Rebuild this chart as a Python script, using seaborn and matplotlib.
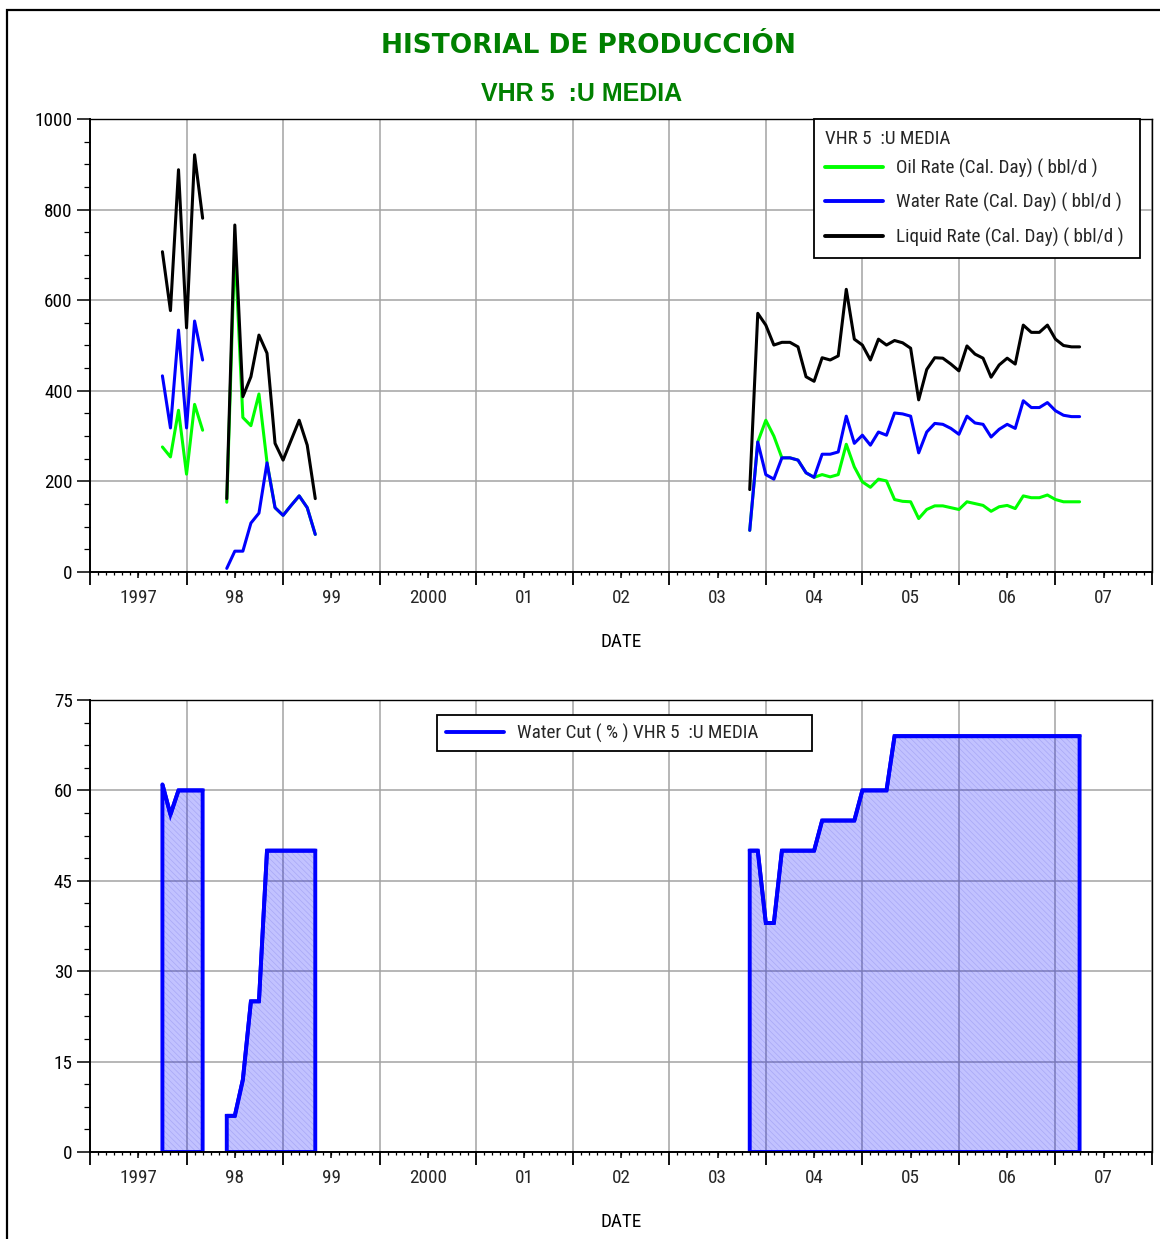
import numpy as np
import pandas as pd
import matplotlib
matplotlib.use("Agg")
import matplotlib.pyplot as plt
from matplotlib import font_manager as fm
from matplotlib.textpath import TextPath
from matplotlib.ticker import FixedLocator, NullFormatter
from matplotlib.lines import Line2D
from matplotlib.patches import Rectangle
import seaborn as sns

# ---- monthly production history, well VHR 5, sand U MEDIA ----
# three producing periods (first month of each)
period_starts = ["1997-04", "1997-12", "2003-05"]

# Oil rate (cal. day), bbl/d
oil_p1 = [276, 254, 357, 216, 370, 313]
oil_p2 = [154, 720, 341, 323, 393, 242, 142, 125, 147, 168, 142, 83]
oil_p3 = [92, 287, 335, 300, 252, 252, 247, 219,
          209, 215, 210, 215, 282, 232, 199, 187, 205, 201, 160, 156,
          155, 118, 138, 146, 146, 142, 138, 155, 151, 147, 134, 144,
          147, 140, 168, 164, 164, 170, 160, 155, 155, 155]

# Water rate (cal. day), bbl/d
water_p1 = [433, 318, 534, 318, 554, 468]
water_p2 = [8, 46, 46, 108, 130, 241, 142, 125, 147, 168, 142, 83]
water_p3 = [92, 287, 215, 205, 252, 252, 247, 219,
            209, 260, 260, 265, 344, 284, 302, 280, 309, 302, 351, 349,
            344, 263, 309, 328, 326, 317, 304, 344, 329, 326, 298, 315,
            326, 317, 378, 363, 363, 374, 356, 346, 343, 343]

# Liquid rate (cal. day), bbl/d
liquid_p1 = [707, 577, 888, 539, 921, 781]
liquid_p2 = [162, 766, 387, 431, 523, 483, 284, 247, 291, 335, 280, 162]
liquid_p3 = [182, 571, 545, 501, 507, 507, 497, 431,
             421, 473, 468, 477, 624, 514, 501, 468, 514, 501, 511, 506,
             494, 380, 447, 473, 472, 459, 444, 499, 481, 472, 430, 457,
             472, 459, 545, 529, 529, 545, 514, 500, 497, 497]

# Water cut, %
wcut_p1 = [61, 56, 60, 60, 60, 60]
wcut_p2 = [6, 6, 12, 25, 25, 50, 50, 50, 50, 50, 50, 50]
wcut_p3 = [50, 50, 38, 38, 50, 50, 50, 50,
           50, 55, 55, 55, 55, 55, 60, 60, 60, 60, 69, 69, 69, 69,
           69, 69, 69, 69, 69, 69, 69, 69, 69, 69, 69, 69,
           69, 69, 69, 69, 69, 69, 69, 69]

year_ticks = [1997, 1998, 1999, 2000, 2001, 2002, 2003, 2004, 2005, 2006, 2007]
year_labels = ["1997", "98", "99", "2000", "01", "02", "03", "04", "05", "06", "07"]

series_names = ["Oil Rate (Cal. Day) ( bbl/d )",
                "Water Rate (Cal. Day) ( bbl/d )",
                "Liquid Rate (Cal. Day) ( bbl/d )"]
series_colors = ["#00ff00", "#0000ff", "#000000"]
well_name = "VHR 5  :U MEDIA"


def decimal_months(start, n):
    d = pd.date_range(start, periods=n, freq="MS")
    return np.asarray(d.year + (d.month - 1) / 12.0, dtype=float)


rows = []
wc_rows = []
periods = [(oil_p1, water_p1, liquid_p1, wcut_p1),
           (oil_p2, water_p2, liquid_p2, wcut_p2),
           (oil_p3, water_p3, liquid_p3, wcut_p3)]
for pid, (start, (oil, wat, liq, wc)) in enumerate(zip(period_starts, periods)):
    t = decimal_months(start, len(oil))
    for name, vals in zip(series_names, (oil, wat, liq)):
        rows.append(pd.DataFrame({"year": t, "rate": vals, "series": name, "period": pid}))
    wc_rows.append(pd.DataFrame({"year": t, "water_cut": wc, "period": pid}))
rates = pd.concat(rows, ignore_index=True)
wcut = pd.concat(wc_rows, ignore_index=True)


# ---- fonts: prefer a narrow sans for the chart texts ----
def pick_narrow():
    for fam in ["Liberation Sans Narrow", "Arial Narrow", "Noto Sans Condensed",
                "Roboto Condensed", "Open Sans Condensed", "DejaVu Sans Condensed"]:
        try:
            fm.findfont(fm.FontProperties(family=fam), fallback_to_default=False)
            return fam, "normal"
        except ValueError:
            pass
    for fam in ["Noto Sans", "Open Sans", "Roboto", "DejaVu Sans"]:
        try:
            path = fm.findfont(fm.FontProperties(family=fam, stretch="condensed"),
                               fallback_to_default=False)
        except ValueError:
            continue
        if "ondensed" in path or "arrow" in path:
            return fam, "condensed"
    return "Liberation Sans", "normal"


narrow_family, narrow_stretch = pick_narrow()
narrow_prop = fm.FontProperties(family=narrow_family, stretch=narrow_stretch)
# size the chart text so the legend entries fit their box (about 224 px wide)
probe = TextPath((0, 0), series_names[1], size=15, prop=narrow_prop)
text_size = 15 * (224 * 72 / 100) / probe.get_extents().width
text_size = float(np.clip(text_size, 11, 16))

# ---- style ----
sns.set_theme(style="ticks")
plt.rcParams["font.family"] = [narrow_family, "Liberation Sans", "DejaVu Sans"]
plt.rcParams["font.stretch"] = narrow_stretch
plt.rcParams["hatch.linewidth"] = 0.5

W, H = 1160, 1239
fig = plt.figure(figsize=(W / 100, H / 100), dpi=100)
fig.patch.set_facecolor("white")

x_left, x_right = 90, 1152
ax1 = fig.add_axes([x_left / W, 1 - 572 / H, (x_right - x_left) / W, (572 - 119) / H])
ax2 = fig.add_axes([x_left / W, 1 - 1152 / H, (x_right - x_left) / W, (1152 - 700) / H])


def style_axis(ax, ymax, ystep, yminor):
    ax.set_xlim(1996.5, 2007.5)
    ax.set_ylim(0, ymax)
    ax.xaxis.set_major_locator(FixedLocator(np.arange(1996.5, 2007.6, 1.0)))
    ax.xaxis.set_major_formatter(NullFormatter())
    ax.xaxis.set_minor_locator(FixedLocator(np.arange(1996.5, 2007.51, 1 / 12)))
    ax.yaxis.set_major_locator(FixedLocator(np.arange(0, ymax + 0.01, ystep)))
    ax.yaxis.set_minor_locator(FixedLocator(np.arange(0, ymax + 0.01, yminor)))
    ax.tick_params(axis="x", which="major", direction="out", length=9.5, width=1.3,
                   color="black", bottom=True, top=False)
    ax.tick_params(axis="x", which="minor", direction="out", length=2.5, width=0.9,
                   color="black", bottom=True, top=False)
    ax.tick_params(axis="y", which="major", direction="out", length=9.5, width=1.1,
                   color="black", labelsize=text_size, pad=3, left=True, labelcolor="black")
    ax.tick_params(axis="y", which="minor", direction="out", length=4.5, width=0.9,
                   color="black", left=True)
    ax.grid(True, which="major", color="#a3a3a3", lw=1.1)
    ax.set_axisbelow(True)
    for side, sp in ax.spines.items():
        sp.set_visible(True)
        sp.set_color("black")
        sp.set_linewidth(1.4 if side in ("left", "bottom") else 1.0)
    sec = ax.secondary_xaxis("bottom")
    sec.set_xticks(year_ticks, labels=year_labels)
    sec.tick_params(axis="x", length=4.5, width=1.1, color="black",
                    labelsize=text_size, pad=8)
    sec.spines["bottom"].set_visible(False)
    ax.set_xlabel("DATE", fontsize=text_size, color="black", va="center")
    ax.xaxis.set_label_coords(0.5, -0.155)
    ax.set_ylabel("")


# ---- top panel: rates ----
sns.lineplot(data=rates, x="year", y="rate", hue="series", hue_order=series_names,
             palette=series_colors, units="period", estimator=None, sort=False,
             lw=2.2, ax=ax1, legend=False)
style_axis(ax1, 1000, 200, 50)

handles = [Line2D([], [], color=c, lw=2.8) for c in series_colors]
leg1 = ax1.legend(handles, series_names, title=well_name, loc="upper left",
                  bbox_to_anchor=((814 - x_left) / (x_right - x_left), 0,
                                  (1140 - 814) / (x_right - x_left), 1.0),
                  mode="expand", borderaxespad=0, frameon=True, fancybox=False,
                  framealpha=1, edgecolor="black", fontsize=text_size,
                  title_fontsize=text_size, alignment="left",
                  handlelength=58 * 72 / 100 / text_size,
                  handletextpad=13 * 72 / 100 / text_size,
                  labelspacing=0.8, borderpad=0.6)
leg1.get_frame().set_linewidth(1.3)
# tighter gap between the legend title and its first entry
leg1._legend_box.sep = 0.8 * text_size - 3.6

# ---- bottom panel: water cut ----
for pid, grp in wcut.groupby("period"):
    ax2.fill_between(grp["year"], 0, grp["water_cut"], facecolor=(0, 0, 1, 0.24),
                     edgecolor=(0.3, 0.3, 0.85, 0.22), hatch="\\\\\\\\\\\\", linewidth=0)
    ax2.fill_between(grp["year"], 0, grp["water_cut"], facecolor="none",
                     edgecolor="#0000ff", linewidth=2.8, joinstyle="miter")
sns.lineplot(data=wcut, x="year", y="water_cut", units="period", estimator=None,
             sort=False, color="#0000ff", lw=2.8, ax=ax2, legend=False)
style_axis(ax2, 75, 15, 3.75)

leg2 = ax2.legend([Line2D([], [], color="#0000ff", lw=2.8)],
                  ["Water Cut ( % ) " + well_name], loc="upper left",
                  bbox_to_anchor=((437 - x_left) / (x_right - x_left), 0,
                                  (812 - 437) / (x_right - x_left), 1 - 15 / 452),
                  mode="expand", borderaxespad=0, frameon=True, fancybox=False,
                  framealpha=1, edgecolor="black", fontsize=text_size,
                  handlelength=58 * 72 / 100 / text_size,
                  handletextpad=13 * 72 / 100 / text_size, borderpad=0.45)
leg2.get_frame().set_linewidth(1.3)

# ---- titles and page frame ----
fig.text(588 / W, 1 - 46 / H, "HISTORIAL DE PRODUCCIÓN", ha="center", va="center",
         color="#008000", fontsize=19, fontweight="bold",
         family=["DejaVu Sans"], stretch="normal")
fig.text(582 / W, 1 - 94 / H, well_name, ha="center", va="center",
         color="#008000", fontsize=18, fontweight="bold",
         family=["Liberation Sans", "DejaVu Sans"], stretch="normal")
fig.patches.append(Rectangle((7 / W, -0.05), 1.2, 1 - 10 / H + 0.05,
                             transform=fig.transFigure, fill=False,
                             edgecolor="black", lw=1.6))

fig.savefig("out.png", dpi=100, facecolor="white")
